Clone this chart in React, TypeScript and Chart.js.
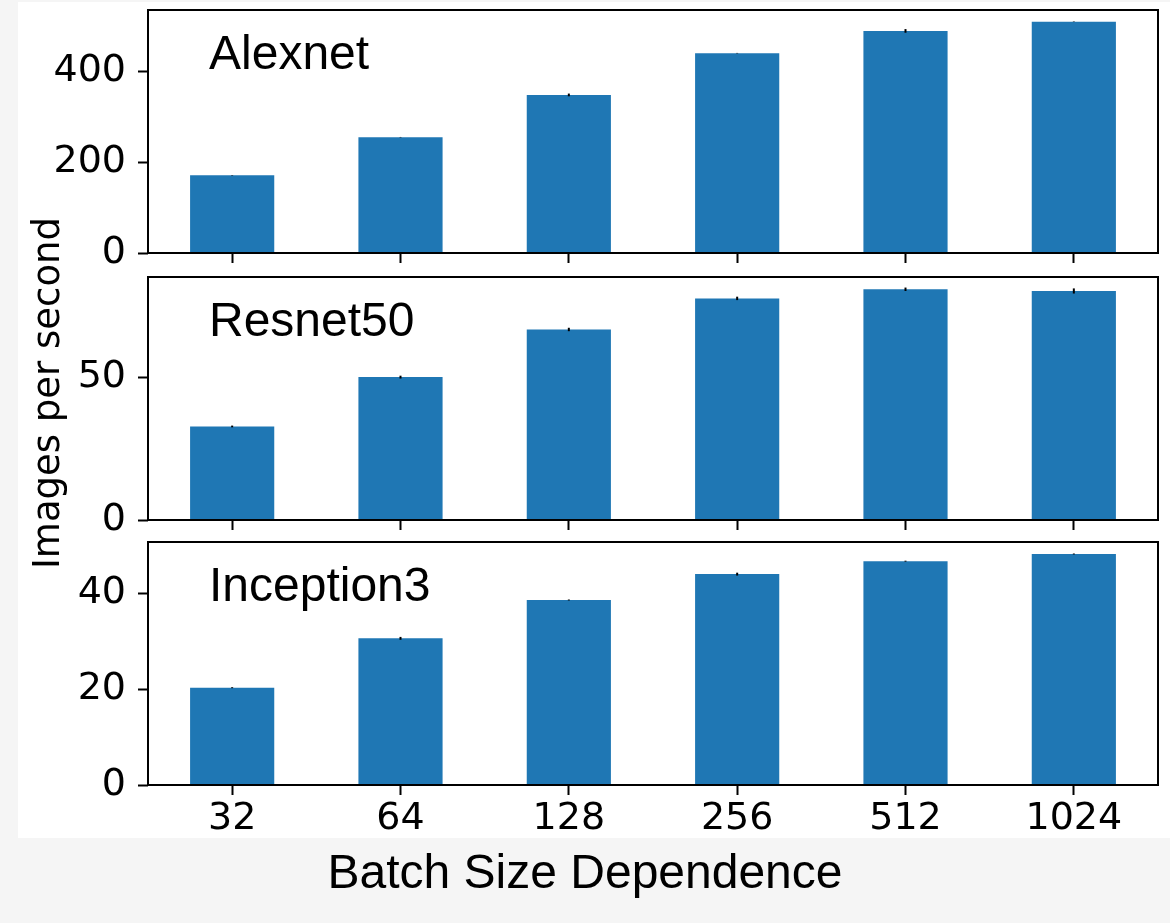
import React, { useEffect, useRef } from 'react';
import { Chart, registerables } from 'chart.js';

Chart.register(...registerables);

const categories = ['32', '64', '128', '256', '512', '1024'];

const alexnetValues = [171, 255, 348, 440, 489, 509];
const alexnetErrors = [0.5, 0.5, 3, 0.5, 4, 0.5];
const alexnetTicks = [0, 200, 400];
const alexnetMax = 535;

const resnetValues = [32.8, 50.1, 66.8, 77.7, 80.9, 80.3];
const resnetErrors = [0.3, 0.5, 0.6, 0.6, 0.6, 0.9];
const resnetTicks = [0, 50];
const resnetMax = 85.2;

const inceptionValues = [20.3, 30.6, 38.6, 44.0, 46.7, 48.2];
const inceptionErrors = [0.1, 0.3, 0.1, 0.3, 0.1, 0.1];
const inceptionTicks = [0, 20, 40];
const inceptionMax = 50.7;

const BAR_COLOR = '#1f77b4';
const TICK_FONT = { family: 'DejaVu Sans', size: 38 };

type Panel = {
  name: string;
  values: number[];
  errors: number[];
  ticks: number[];
  max: number;
  top: number;
  height: number;
  padTop: number;
  xHeight: number;
  showX: boolean;
};

const panels: Panel[] = [
  { name: 'Alexnet', values: alexnetValues, errors: alexnetErrors, ticks: alexnetTicks, max: alexnetMax, top: 0, height: 280, padTop: 10, xHeight: 27, showX: false },
  { name: 'Resnet50', values: resnetValues, errors: resnetErrors, ticks: resnetTicks, max: resnetMax, top: 262, height: 283, padTop: 15, xHeight: 25, showX: false },
  { name: 'Inception3', values: inceptionValues, errors: inceptionErrors, ticks: inceptionTicks, max: inceptionMax, top: 530, height: 308, padTop: 12, xHeight: 53, showX: true },
];

function PanelChart({ panel }: { panel: Panel }) {
  const ref = useRef<HTMLCanvasElement>(null);
  useEffect(() => {
    const decor = {
      id: 'panelDecor',
      afterDatasetsDraw(chart: any) {
        const { ctx, chartArea: a, scales } = chart;
        const x = scales.x;
        const y = scales.y;
        ctx.save();
        ctx.strokeStyle = '#000';
        ctx.lineWidth = 2;
        panel.values.forEach((v, i) => {
          const e = panel.errors[i];
          const px = x.getPixelForValue(i);
          ctx.beginPath();
          ctx.moveTo(px, y.getPixelForValue(v - e));
          ctx.lineTo(px, y.getPixelForValue(v + e));
          ctx.stroke();
        });
        ctx.strokeRect(a.left, a.top, a.right - a.left, a.bottom - a.top);
        ctx.fillStyle = '#000';
        ctx.font = '48px "Liberation Sans", Arial, sans-serif';
        ctx.textAlign = 'left';
        ctx.textBaseline = 'alphabetic';
        ctx.fillText(panel.name, a.left + 61, a.top + 59);
        ctx.restore();
      },
    };
    const gridOpts = {
      display: true,
      drawOnChartArea: false,
      drawTicks: true,
      tickLength: 10,
      tickWidth: 2,
      tickColor: '#000',
      offset: false,
    };
    const chart = new Chart(ref.current as HTMLCanvasElement, {
      type: 'bar',
      data: {
        labels: categories,
        datasets: [
          {
            data: panel.values,
            backgroundColor: BAR_COLOR,
            borderWidth: 0,
            barPercentage: 0.5,
            categoryPercentage: 1,
          },
        ],
      },
      options: {
        responsive: false,
        animation: false,
        devicePixelRatio: 1,
        layout: { padding: { top: panel.padTop, right: 12, left: 0, bottom: 0 } },
        plugins: {
          legend: { display: false },
          tooltip: { enabled: false },
          title: { display: false },
        },
        scales: {
          x: {
            offset: true,
            grid: gridOpts,
            border: { display: false },
            ticks: {
              display: panel.showX,
              font: TICK_FONT,
              color: '#000',
              padding: 1,
              maxRotation: 0,
              autoSkip: false,
            },
            afterFit: (s: any) => {
              s.height = panel.xHeight;
              s.paddingLeft = 0;
              s.paddingRight = 0;
            },
          },
          y: {
            min: 0,
            max: panel.max,
            grid: gridOpts,
            border: { display: false },
            ticks: {
              font: TICK_FONT,
              color: '#000',
              padding: 12,
            },
            afterBuildTicks: (s: any) => {
              s.ticks = panel.ticks.map((v) => ({ value: v }));
            },
            afterFit: (s: any) => {
              s.width = 148;
              s.paddingTop = 0;
              s.paddingBottom = 0;
            },
          },
        },
      } as any,
      plugins: [decor],
    });
    return () => chart.destroy();
  }, [panel]);
  return (
    <canvas
      ref={ref}
      width={1170}
      height={panel.height}
      style={{ position: 'absolute', left: 0, top: panel.top }}
    />
  );
}

export default function App() {
  return (
    <div style={{ position: 'absolute', left: 0, top: 0, width: 1170, height: 923, background: '#f5f5f5', overflow: 'hidden' }}>
      <div style={{ position: 'absolute', left: 18, top: 2, width: 1152, height: 836, background: '#ffffff' }} />
      {panels.map((p) => (
        <PanelChart key={p.name} panel={p} />
      ))}
      <div
        style={{
          position: 'absolute',
          left: 47 - 200,
          top: 393 - 21,
          width: 400,
          height: 42,
          lineHeight: '42px',
          fontFamily: '"DejaVu Sans", sans-serif',
          fontSize: 37,
          color: '#000',
          textAlign: 'center',
          whiteSpace: 'nowrap',
          transform: 'rotate(-90deg)',
        }}
      >
        Images per second
      </div>
      <div
        style={{
          position: 'absolute',
          left: 0,
          top: 848,
          width: 1170,
          lineHeight: '48px',
          fontFamily: '"Liberation Sans", Arial, sans-serif',
          fontSize: 48,
          color: '#000',
          textAlign: 'center',
          whiteSpace: 'nowrap',
        }}
      >
        Batch Size Dependence
      </div>
    </div>
  );
}
